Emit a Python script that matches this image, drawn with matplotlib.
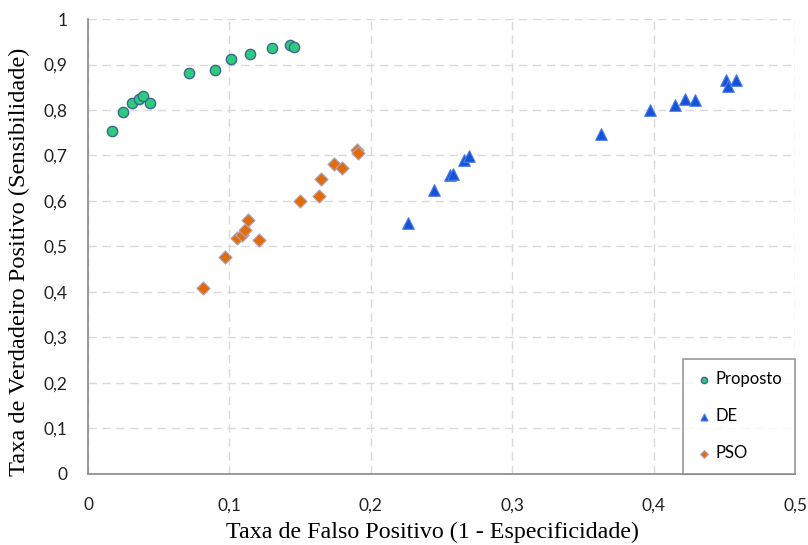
import matplotlib.pyplot as plt
from matplotlib.ticker import FuncFormatter

# Data
proposto_fpr = [0.0168, 0.0245, 0.0313, 0.0361, 0.0389, 0.0441, 0.0716, 0.0896,
                0.1009, 0.1146, 0.1299, 0.1426, 0.1459]
proposto_tpr = [0.753, 0.796, 0.816, 0.825, 0.830, 0.816, 0.881, 0.887,
                0.912, 0.924, 0.936, 0.942, 0.939]

de_fpr = [0.2265, 0.2449, 0.2560, 0.2579, 0.2659, 0.2697, 0.3628, 0.3975,
          0.4151, 0.4224, 0.4293, 0.4512, 0.4528, 0.4583]
de_tpr = [0.551, 0.624, 0.657, 0.660, 0.690, 0.699, 0.748, 0.799,
          0.812, 0.825, 0.821, 0.867, 0.852, 0.867]

pso_fpr = [0.0811, 0.0969, 0.1052, 0.1087, 0.1110, 0.1132, 0.1209, 0.1500,
           0.1636, 0.1646, 0.1740, 0.1798, 0.1900, 0.1910]
pso_tpr = [0.408, 0.476, 0.519, 0.525, 0.536, 0.558, 0.513, 0.600,
           0.611, 0.648, 0.682, 0.672, 0.713, 0.705]

x_ticks = [0, 0.1, 0.2, 0.3, 0.4, 0.5]
y_ticks = [0, 0.1, 0.2, 0.3, 0.4, 0.5, 0.6, 0.7, 0.8, 0.9, 1.0]

tick_font = ['Lato', 'DejaVu Sans']
title_font = ['Liberation Serif', 'DejaVu Serif']

fig = plt.figure(figsize=(8.08, 5.45), dpi=100)
ax = fig.add_axes([0.109, 0.131, 0.875, 0.834])

ax.scatter(proposto_fpr, proposto_tpr, s=55, marker='o', color='#2DCC7D',
           edgecolors='#3D6690', linewidths=1.0, label='Proposto', zorder=3)
ax.scatter(de_fpr, de_tpr, s=70, marker='^', color='#1553D6',
           edgecolors='#4A7BEA', linewidths=0.8, label='DE', zorder=3)
ax.scatter(pso_fpr, pso_tpr, s=45, marker='D', color='#E36C0A',
           edgecolors='#A8A8C8', linewidths=0.8, label='PSO', zorder=3)

ax.set_xlim(0, 0.5)
ax.set_ylim(0, 1)
ax.set_xticks(x_ticks)
ax.set_yticks(y_ticks)
comma = FuncFormatter(lambda v, p: ('%g' % round(v, 2)).replace('.', ','))
ax.xaxis.set_major_formatter(comma)
ax.yaxis.set_major_formatter(comma)
ax.tick_params(length=0, labelsize=12.5, colors='#222222')
ax.tick_params(axis='x', pad=17)
ax.tick_params(axis='y', pad=15)
for lab in ax.get_xticklabels() + ax.get_yticklabels():
    lab.set_family(tick_font)

ax.grid(True, color='#D9D9D9', linestyle=(0, (6, 4)), linewidth=1.0, zorder=0)
ax.set_axisbelow(True)
for side in ['top', 'right']:
    ax.spines[side].set_visible(False)
for side in ['left', 'bottom']:
    ax.spines[side].set_color('#888888')
    ax.spines[side].set_linewidth(1.2)

ax.set_xlabel('Taxa de Falso Positivo (1 - Especificidade)', fontsize=17.3,
              family=title_font)
ax.set_ylabel('Taxa de Verdadeiro Positivo (Sensibilidade)', fontsize=17.6,
              family=title_font)
ax.xaxis.set_label_coords(0.487, -0.105)
ax.yaxis.set_label_coords(-0.082, 0.465)

leg = ax.legend(loc='lower right', bbox_to_anchor=(1.0, 0.0), frameon=True,
                fancybox=False, shadow=False, labelspacing=1.25, handletextpad=0.2,
                handlelength=1.0, borderpad=0.75, borderaxespad=0.0,
                markerscale=0.6, prop={'family': tick_font, 'size': 12})
leg.get_frame().set_edgecolor('#808080')
leg.get_frame().set_linewidth(1.2)

fig.savefig('out.png', dpi=100)
